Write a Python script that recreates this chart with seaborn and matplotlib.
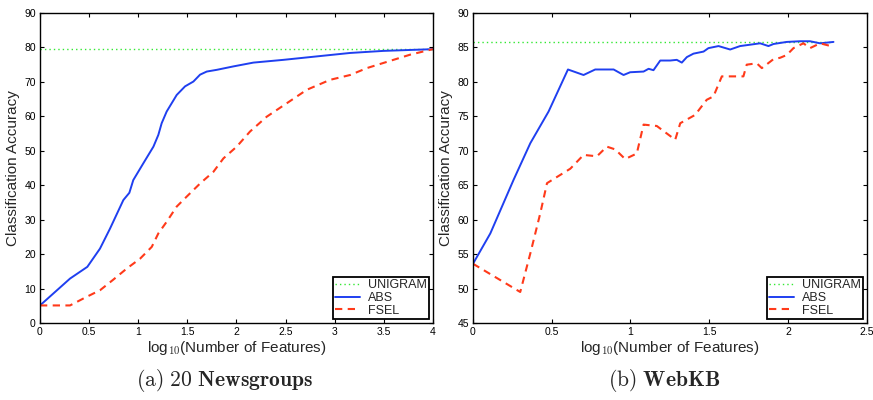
import matplotlib
matplotlib.use("Agg")
import matplotlib.pyplot as plt
import seaborn as sns

# 20 Newsgroups
ng_x_abs = [0, 0.306, 0.482, 0.611, 0.713, 0.849, 0.91, 0.95, 1.053, 1.155, 1.205, 1.239, 1.29,
            1.392, 1.477, 1.562, 1.63, 1.698, 1.8, 1.97, 2.173, 2.479, 2.818, 3.158, 3.497, 4.0]
ng_abs = [5.1, 12.9, 16.3, 21.6, 27.4, 35.7, 37.8, 41.5, 46.4, 51.2, 54.6, 58.0, 61.4,
          66.2, 68.7, 70.1, 72.1, 73.0, 73.5, 74.5, 75.6, 76.4, 77.4, 78.4, 79.0, 79.5]
ng_x_fsel = [0, 0.306, 0.475, 0.611, 0.747, 0.883, 1.02, 1.138, 1.205, 1.29, 1.392, 1.494, 1.63,
             1.766, 1.868, 2.003, 2.139, 2.309, 2.513, 2.716, 2.954, 3.158, 3.328, 3.497, 3.769, 4.0]
ng_fsel = [5.1, 5.1, 7.6, 9.5, 12.6, 15.8, 18.7, 22.1, 26.0, 29.4, 33.8, 36.7, 40.5,
           43.9, 47.8, 51.2, 55.6, 59.9, 63.8, 67.7, 70.6, 72.0, 74.0, 75.5, 77.9, 79.5]
ng_x_uni = [0, 4.0]
ng_uni = [79.5, 79.5]

# WebKB
kb_x_abs = [0, 0.11, 0.258, 0.364, 0.48, 0.603, 0.702, 0.776, 0.893, 0.956, 0.998, 1.083, 1.115,
            1.146, 1.189, 1.252, 1.294, 1.326, 1.358, 1.4, 1.464, 1.495, 1.559, 1.633, 1.696,
            1.76, 1.823, 1.876, 1.908, 1.992, 2.077, 2.14, 2.204, 2.289]
kb_abs = [53.6, 58.0, 65.8, 71.1, 75.7, 81.8, 81.0, 81.8, 81.8, 81.0, 81.4, 81.5, 81.9,
          81.7, 83.1, 83.1, 83.2, 82.8, 83.6, 84.1, 84.4, 84.9, 85.2, 84.7, 85.2,
          85.4, 85.6, 85.2, 85.5, 85.8, 85.9, 85.9, 85.6, 85.8]
kb_x_fsel = [0, 0.3, 0.364, 0.427, 0.47, 0.618, 0.702, 0.787, 0.85, 0.903, 0.966, 1.04, 1.083,
             1.167, 1.284, 1.316, 1.41, 1.484, 1.527, 1.58, 1.654, 1.717, 1.738, 1.802, 1.834,
             1.908, 1.95, 1.992, 2.035, 2.098, 2.14, 2.204, 2.289]
kb_fsel = [53.6, 49.5, 55.1, 60.9, 65.3, 67.4, 69.4, 69.2, 70.6, 70.2, 68.8, 69.6, 73.8,
           73.6, 71.6, 74.0, 75.2, 77.4, 77.9, 80.8, 80.8, 80.8, 82.5, 82.7, 82.0,
           83.3, 83.5, 83.9, 84.9, 85.6, 84.9, 85.6, 85.1]
kb_x_uni = [0, 2.289]
kb_uni = [85.8, 85.8]

sns.set_style("ticks")
plt.rcParams['font.family'] = ['Liberation Sans', 'DejaVu Sans']
plt.rcParams['mathtext.fontset'] = 'cm'

fig = plt.figure(figsize=(8.73, 4.0), dpi=100)
ax1 = fig.add_axes([0.0458, 0.1925, 0.450, 0.775])
ax2 = fig.add_axes([0.5418, 0.1925, 0.451, 0.775])

panels = [
    (ax1, ng_x_uni, ng_uni, ng_x_abs, ng_abs, ng_x_fsel, ng_fsel, (0, 4), (0, 90), 10, 0.5,
     r"$\mathrm{(a)}\ \mathbf{20\ Newsgroups}$", 0.47),
    (ax2, kb_x_uni, kb_uni, kb_x_abs, kb_abs, kb_x_fsel, kb_fsel, (0, 2.5), (45, 90), 5, 0.5,
     r"$\mathrm{(b)}\ \mathbf{WebKB}$", 0.485),
]

for ax, xu, yu, xa, ya, xf, yf, xlim, ylim, ystep, xstep, cap, capx in panels:
    sns.lineplot(x=xu, y=yu, ax=ax, color='#33e833', lw=1.0, linestyle=(0, (1, 2.2)), label='UNIGRAM')
    sns.lineplot(x=xa, y=ya, ax=ax, color='#1f3ff0', lw=1.4, label='ABS')
    sns.lineplot(x=xf, y=yf, ax=ax, color='#ff3a1a', lw=1.5, linestyle=(0, (3.5, 2.6)), label='FSEL')
    ax.set_xlim(*xlim)
    ax.set_ylim(*ylim)
    yt = []
    v = ylim[0]
    while v <= ylim[1] + 1e-9:
        yt.append(v)
        v += ystep
    ax.set_yticks(yt)
    xt = []
    v = 0
    while v <= xlim[1] + 1e-9:
        xt.append(v)
        v += xstep
    ax.set_xticks(xt)
    ax.set_xticklabels([('%g' % t) for t in xt])
    ax.tick_params(direction='in', top=True, right=True, labelsize=7.5, length=3, width=0.8,
                   colors='black', pad=3)
    for s in ax.spines.values():
        s.set_linewidth(1.0)
        s.set_color('black')
    ax.set_ylabel('Classification Accuracy', fontsize=11, labelpad=3)
    ax.set_xlabel(r'log$_{\mathsf{10}}$(Number of Features)', fontsize=11, labelpad=1)
    leg = ax.legend(loc='lower right', fontsize=9, frameon=True, fancybox=False, framealpha=1,
                    edgecolor='black', handlelength=2.0, borderpad=0.2, labelspacing=0.05,
                    handletextpad=0.6, borderaxespad=0.3)
    leg.get_frame().set_linewidth(1.3)
    ax.text(capx, -0.185, cap, transform=ax.transAxes, ha='center', va='center', fontsize=15.5)

plt.savefig('out.png', dpi=100)
